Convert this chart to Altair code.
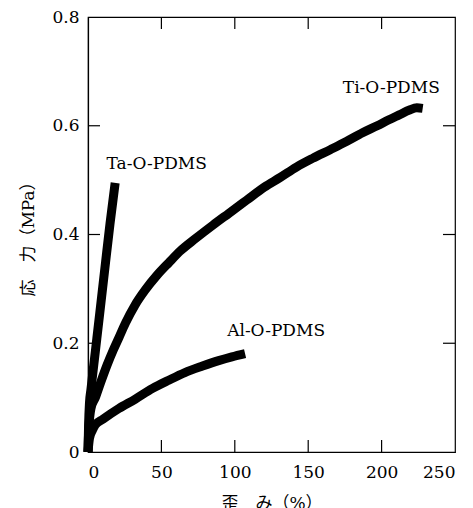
import altair as alt
import pandas as pd

# Stress-strain curves (strain %, stress MPa)
ti_strain = [0, 0.5, 2, 5, 8.5, 13, 17.3, 21, 25.5, 32, 39, 47, 55, 63, 73, 85, 96, 108, 120, 131, 142, 153, 165, 176, 187, 197, 205, 212, 219, 224, 228]
ti_stress = [0, 0.04, 0.08, 0.10, 0.127, 0.16, 0.188, 0.21, 0.237, 0.27, 0.298, 0.325, 0.348, 0.37, 0.392, 0.417, 0.439, 0.463, 0.487, 0.505, 0.524, 0.54, 0.556, 0.571, 0.587, 0.60, 0.611, 0.62, 0.629, 0.633, 0.632]
ta_strain = [0, 0.4, 1, 2, 5, 8, 12, 15, 18.5]
ta_stress = [0, 0.05, 0.09, 0.115, 0.185, 0.255, 0.35, 0.42, 0.495]
al_strain = [0, 1, 3, 5, 10, 21, 32, 44, 55, 66, 78, 89, 98, 107]
al_stress = [0, 0.025, 0.04, 0.05, 0.06, 0.08, 0.097, 0.117, 0.132, 0.146, 0.158, 0.168, 0.175, 0.181]

labels = ["Ti-O-PDMS", "Ta-O-PDMS", "Al-O-PDMS"]
label_strain = [173.6, 12.6, 94.8]
label_stress = [0.670, 0.530, 0.2225]

x_ticks = [0, 50, 100, 150, 200, 250]
y_ticks = [0, 0.2, 0.4, 0.6, 0.8]
x_inner_ticks = [50, 100, 150, 200]
y_inner_ticks = [0.2, 0.4, 0.6]

W, H = 367, 435
TL = 12

rows = []
for name, xs, ys in [("Ti", ti_strain, ti_stress), ("Ta", ta_strain, ta_stress), ("Al", al_strain, al_stress)]:
    for i, (a, b) in enumerate(zip(xs, ys)):
        rows.append({"series": name, "idx": i, "strain": a, "stress": b})
df = pd.DataFrame(rows)

xscale = alt.Scale(domain=[0, 250], nice=False, zero=False)
yscale = alt.Scale(domain=[0, 0.8], nice=False, zero=False)
xaxis = alt.Axis(values=x_ticks, ticks=False, tickSize=0, grid=False,
                 labelPadding=12, titlePadding=15)
yaxis = alt.Axis(values=y_ticks, ticks=False, tickSize=0, grid=False,
                 labelPadding=9, titlePadding=14,
                 labelExpr="datum.value == 0 ? '0' : format(datum.value, '.1f')")
XT = "歪　み（%）"
YT = "応　力（MPa）"

lines = alt.Chart(df).mark_line(
    color="black", strokeWidth=9, strokeJoin="round", strokeCap="butt", interpolate="monotone"
).encode(
    x=alt.X("strain:Q", scale=xscale, title=XT, axis=xaxis),
    y=alt.Y("stress:Q", scale=yscale, title=YT, axis=yaxis),
    detail="series:N",
    order="idx:Q",
)

tdf = pd.DataFrame({"label": labels, "strain": label_strain, "stress": label_stress})
texts = alt.Chart(tdf).mark_text(
    align="left", baseline="middle", font="DejaVu Serif", fontSize=17, color="black"
).encode(
    x=alt.X("strain:Q", scale=xscale, title=XT, axis=xaxis),
    y=alt.Y("stress:Q", scale=yscale, title=YT, axis=yaxis),
    text="label:N",
)

xt = pd.DataFrame({"strain": x_inner_ticks})
yt = pd.DataFrame({"stress": y_inner_ticks})
rule_style = dict(color="black", strokeWidth=1.2)

bottom_ticks = alt.Chart(xt).mark_rule(**rule_style).encode(
    x=alt.X("strain:Q", scale=xscale, title=XT, axis=xaxis), y=alt.value(H), y2=alt.value(H - TL))
top_ticks = alt.Chart(xt).mark_rule(**rule_style).encode(
    x=alt.X("strain:Q", scale=xscale, title=XT, axis=xaxis), y=alt.value(0), y2=alt.value(TL))
left_ticks = alt.Chart(yt).mark_rule(**rule_style).encode(
    y=alt.Y("stress:Q", scale=yscale, title=YT, axis=yaxis), x=alt.value(0), x2=alt.value(TL))
right_ticks = alt.Chart(yt).mark_rule(**rule_style).encode(
    y=alt.Y("stress:Q", scale=yscale, title=YT, axis=yaxis), x=alt.value(W), x2=alt.value(W - TL))

chart = alt.layer(lines, texts, bottom_ticks, top_ticks, left_ticks, right_ticks).properties(
    width=W, height=H,
    autosize=alt.AutoSizeParams(type="none"),
    padding={"left": 80, "top": 9, "right": 10, "bottom": 56},
).configure_view(
    stroke="black", strokeWidth=1.2
).configure_axis(
    domainColor="black", domainWidth=1.2, labelColor="black", titleColor="black",
    labelFont="DejaVu Serif", labelFontSize=17,
    titleFont="DejaVu Serif, Noto Sans CJK JP", titleFontSize=17, titleFontWeight="normal",
)

chart.save("out.html", embed_options={"renderer": "svg", "actions": False})
